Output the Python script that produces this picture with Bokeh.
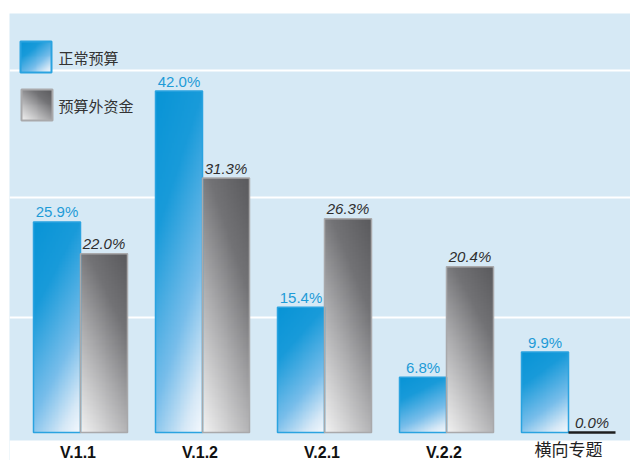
import numpy as np
from bokeh.plotting import figure
from bokeh.models import Range1d, Grid, FixedTicker, BoxAnnotation
from bokeh.core.properties import value
from bokeh.embed import file_html
from bokeh.resources import INLINE

# ---------------- data ----------------
categories = ["V.1.1", "V.1.2", "V.2.1", "V.2.2", "横向专题"]
normal_budget = [25.9, 42.0, 15.4, 6.8, 9.9]
extra_budget = [22.0, 31.3, 26.3, 20.4, 0.0]
series_names = ["正常预算", "预算外资金"]
grid_levels = [14.2, 28.9, 44.5]

# ---------------- layout constants ----------------
W, H = 630, 460
ORIGIN = 0             # page offset of the canvas
BORDER_L, BORDER_T = 9, 13
FRAME_L, FRAME_T = ORIGIN + BORDER_L, ORIGIN + BORDER_T
PX_PER_CAT = 122.0
PX_PER_PCT = 8.13
BASE_PX = 432          # page pixel of value 0
FIRST_CENTER_PX = 80   # page pixel of first category centre
BAR_W = 47 / PX_PER_CAT
FRAME_R = ORIGIN + W
FRAME_B = ORIGIN + H

x_start = (FRAME_L - FIRST_CENTER_PX) / PX_PER_CAT
x_end = (FRAME_R - FIRST_CENTER_PX) / PX_PER_CAT
y_end = (BASE_PX - FRAME_T) / PX_PER_PCT
y_start = (BASE_PX - FRAME_B) / PX_PER_PCT


def dx(px):
    return x_start + (px - FRAME_L) / PX_PER_CAT


def dy(py):
    return (BASE_PX - py) / PX_PER_PCT


LABEL_GAP = 10 / PX_PER_PCT

BG = "#d6e9f5"
BLUE_TXT = "#1e9bd7"
BLUE_LINE = "#2aa3e0"
GRAY_LINE = "#a9a9ab"

BLUE_STOPS = [(0.0, (8, 148, 214)), (0.3, (25, 155, 218)), (0.65, (120, 190, 235)),
              (0.88, (215, 233, 247)), (1.0, (246, 250, 254))]
GRAY_STOPS = [(0.0, (90, 90, 93)), (0.3, (115, 115, 118)), (0.6, (172, 172, 174)),
              (1.0, (243, 243, 243))]


def gradient(stops, wx, wy, flip_x, nx=32, ny=140):
    ux = (np.arange(nx) + 0.5) / nx
    if flip_x:
        ux = 1 - ux
    uy = 1 - (np.arange(ny) + 0.5) / ny   # 0 at top, 1 at bottom (row 0 = bottom)
    t = np.clip(wx * ux[None, :] + wy * uy[:, None], 0, 1)
    pos = [s[0] for s in stops]
    img = np.empty((ny, nx, 4), dtype=np.uint8)
    for c in range(3):
        img[:, :, c] = np.interp(t, pos, [s[1][c] for s in stops]).astype(np.uint8)
    img[:, :, 3] = 255
    return img.view(np.uint32).reshape(ny, nx)


blue_img = gradient(BLUE_STOPS, 0.3, 0.7, False)
gray_img = gradient(GRAY_STOPS, 0.35, 0.65, True)
blue_leg = gradient(BLUE_STOPS, 0.45, 0.55, False, 32, 32)
gray_leg = gradient(GRAY_STOPS, 0.45, 0.55, True, 32, 32)

p = figure(width=W, height=H, output_backend="svg", toolbar_location=None,
           x_range=Range1d(x_start, x_end), y_range=Range1d(y_start, y_end),
           x_axis_location=None, y_axis_location=None,
           min_border_left=BORDER_L, min_border_right=0,
           min_border_top=BORDER_T, min_border_bottom=0)
p.outline_line_color = None
p.background_fill_color = BG
p.border_fill_color = "white"
for g in list(p.grid):
    g.visible = False

# white strip below the chart panel
p.add_layout(BoxAnnotation(top=dy(440), fill_color="white", fill_alpha=1,
                           line_alpha=0, level="underlay"))
p.add_layout(Grid(dimension=1, ticker=FixedTicker(ticks=grid_levels),
                  grid_line_color="white", grid_line_width=2))

n = len(categories)
centers = np.arange(n, dtype=float)
blue_x = centers - BAR_W / 2
gray_x = centers + BAR_W / 2

# gradient fills
p.image_rgba(image=[blue_img] * n, x=list(centers - BAR_W), y=[0] * n,
             dw=[BAR_W] * n, dh=normal_budget)
p.image_rgba(image=[gray_img] * n, x=list(centers), y=[0] * n,
             dw=[BAR_W] * n, dh=extra_budget)

# bar outlines
p.vbar(x=blue_x, width=BAR_W, top=normal_budget, bottom=0, fill_alpha=0,
       line_color=BLUE_LINE, line_width=1.5)
nz_idx = [i for i, v in enumerate(extra_budget) if v > 0]
z_idx = [i for i, v in enumerate(extra_budget) if v == 0]
p.vbar(x=[gray_x[i] for i in nz_idx], width=BAR_W, top=[extra_budget[i] for i in nz_idx],
       bottom=0, fill_alpha=0, line_color=GRAY_LINE, line_width=1.5)
if z_idx:
    p.segment(x0=[centers[i] for i in z_idx], x1=[centers[i] + BAR_W for i in z_idx],
              y0=[extra_budget[i] for i in z_idx], y1=[extra_budget[i] for i in z_idx],
              line_color="#1e1e1e", line_width=2.5)

# value labels
p.text(x=blue_x, y=[v + LABEL_GAP for v in normal_budget],
       text=[f"{v:.1f}%" for v in normal_budget],
       text_align="center", text_baseline="middle",
       text_font=value("Liberation Sans"), text_font_size="15px", text_color=BLUE_TXT)
p.text(x=gray_x, y=[v + LABEL_GAP for v in extra_budget],
       text=[f"{v:.1f}%" for v in extra_budget],
       text_align="center", text_baseline="middle",
       text_font=value("Liberation Sans"), text_font_size="15px",
       text_font_style="italic", text_color="#2e2e2e")

# category labels
asc = [i for i, c in enumerate(categories) if c.isascii()]
cjk = [i for i, c in enumerate(categories) if not c.isascii()]
p.text(x=[centers[i] - 0.02 for i in asc], y=[dy(452)] * len(asc), text=[categories[i] for i in asc],
       text_align="center", text_baseline="middle", text_font=value("Liberation Sans"),
       text_font_size="16px", text_font_style="bold", text_color="#111111")
p.text(x=[centers[i] for i in cjk], y=[dy(448)] * len(cjk), text=[categories[i] for i in cjk],
       text_align="center", text_baseline="middle", text_font=value("Noto Sans CJK SC"),
       text_font_size="17px", text_color="#222222")

# legend (manual, with gradient swatches)
leg_boxes = [(20, 41, 51, 72), (21, 89, 52, 120)]
leg_imgs = [blue_leg, gray_leg]
leg_lines = [BLUE_LINE, GRAY_LINE]
for (l, t, r, b), img, lc, name in zip(leg_boxes, leg_imgs, leg_lines, series_names):
    p.image_rgba(image=[img], x=[dx(l)], y=[dy(b)], dw=[dx(r) - dx(l)], dh=[dy(t) - dy(b)])
    p.quad(left=[dx(l)], right=[dx(r)], bottom=[dy(b)], top=[dy(t)], fill_alpha=0,
           line_color=lc, line_width=2)
    p.text(x=[dx(58)], y=[dy((t + b) / 2)], text=[name], text_align="left",
           text_baseline="middle", text_font=value("Noto Sans CJK SC"),
           text_font_size="15px", text_color="#333333")

open("out.html", "w").write(file_html(p, INLINE))
